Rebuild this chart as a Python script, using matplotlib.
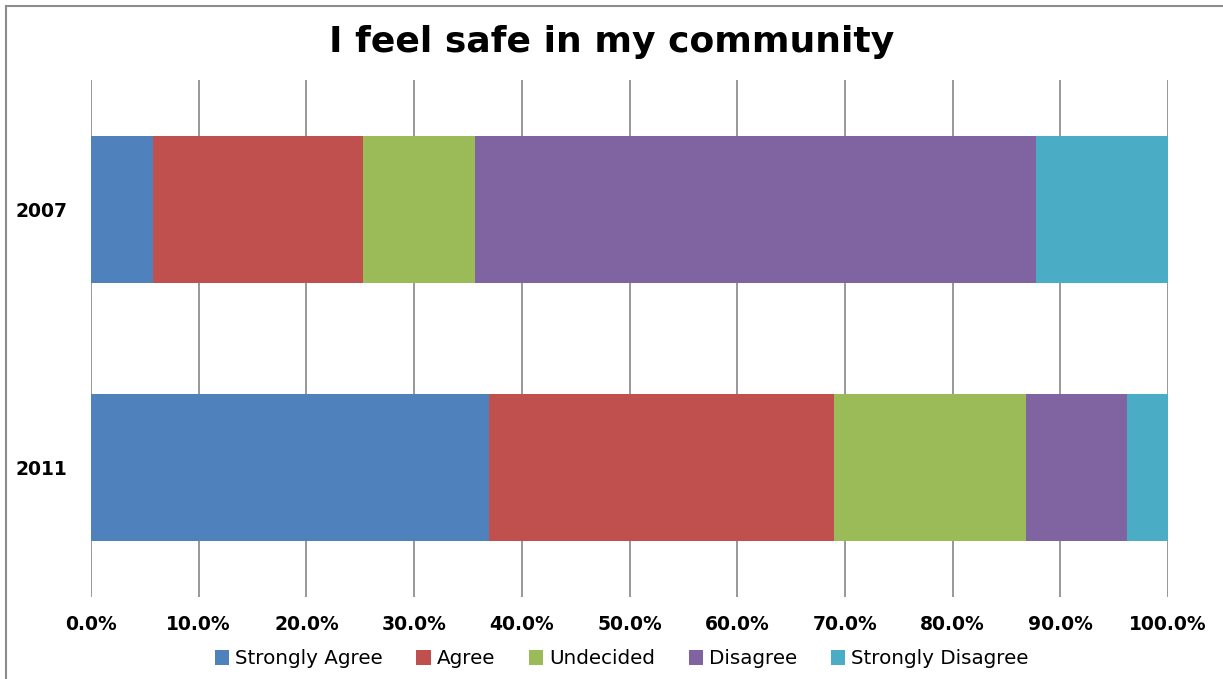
import numpy as np
import matplotlib
matplotlib.use("Agg")
import matplotlib.pyplot as plt
from matplotlib.patches import Rectangle

# data (percent of respondents)
years = ["2007", "2011"]
responses = ["Strongly Agree", "Agree", "Undecided", "Disagree", "Strongly Disagree"]
strongly_agree = [5.8, 37.0]
agree = [19.5, 32.0]
undecided = [10.4, 17.8]
disagree = [52.0, 9.4]
strongly_disagree = [12.3, 3.8]
colors = ["#4F81BD", "#C0504D", "#9BBB59", "#8064A2", "#4BACC6"]

series = [strongly_agree, agree, undecided, disagree, strongly_disagree]

fig = plt.figure(figsize=(12.23, 6.79), dpi=100)
W, H = 1223, 679
ax = fig.add_axes([91 / W, 1 - 597 / H, (1168 - 91) / W, (597 - 80) / H])

ypos = np.array([1, 0])  # 2007 on top
left = np.zeros(len(years))
for name, vals, col in zip(responses, series, colors):
    vals = np.array(vals)
    ax.barh(ypos, vals, left=left, height=0.57, color=col, label=name, zorder=3)
    left += vals

ax.set_xlim(0, 100)
ax.set_ylim(-0.5, 1.5)
ax.set_xticks(np.arange(0, 101, 10))
ax.set_xticklabels(["%.1f%%" % v for v in np.arange(0, 101, 10)],
                   fontsize=13.5, fontweight="bold", family="DejaVu Sans")
ax.set_yticks(ypos)
ax.set_yticklabels(years, fontsize=13.5, fontweight="bold", family="DejaVu Sans")
ax.tick_params(axis="x", length=0, pad=13)
ax.tick_params(axis="y", length=0, pad=17)
ax.grid(axis="x", color="#868686", linewidth=1.2, zorder=0)
for s in ax.spines.values():
    s.set_visible(False)

fig.text(0.5, 1 - 42 / H, "I feel safe in my community", ha="center", va="center",
         fontsize=26, fontweight="bold", family="DejaVu Sans")

ax.legend(loc="center", bbox_to_anchor=(0.5 + 10 / W, 1 - 659 / H), bbox_transform=fig.transFigure,
          ncol=5, frameon=False, handlelength=0.72, handleheight=0.72,
          handletextpad=0.3, columnspacing=1.7, prop={"family": "DejaVu Sans", "size": 14.3})

# chart border
fig.patches.append(Rectangle((6 / W, -0.1), 1.2, 1 - 6 / H + 0.1, transform=fig.transFigure,
                             fill=False, edgecolor="#8c8c8c", linewidth=1.5))

fig.savefig("out.png", dpi=100)
